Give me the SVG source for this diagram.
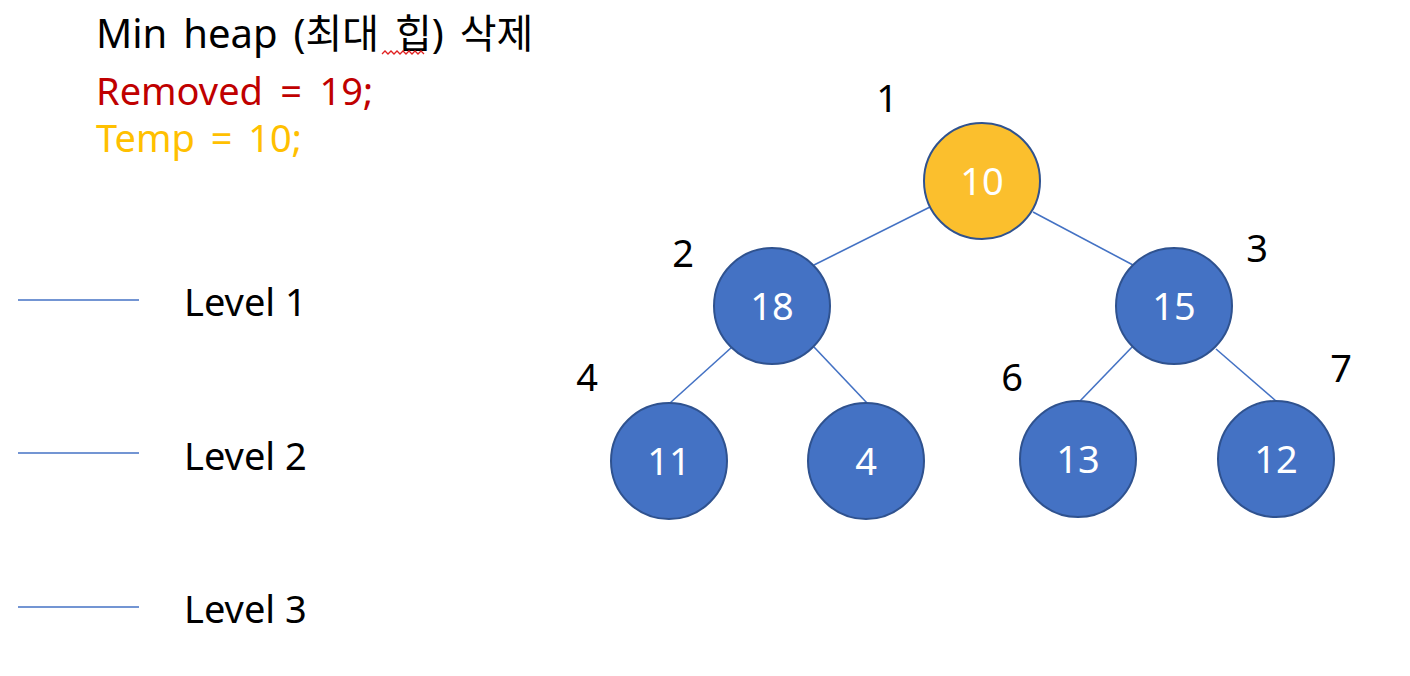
<svg xmlns="http://www.w3.org/2000/svg" width="1410" height="676" viewBox="0 0 1410 676">
<style>
text{font-family:"Noto Sans","Noto Sans CJK KR",sans-serif;font-size:38px}
.node circle{fill:#4472C4;stroke:#2F528F;stroke-width:2}
.node text{fill:#fff;text-anchor:middle}
.idx{fill:#000;text-anchor:middle}
.edge{stroke:#4472C4;stroke-width:1.6;fill:none}
</style>
<rect width="1410" height="676" fill="#fff"/>
<text x="96" y="48" fill="#000" style="font-size:40px" word-spacing="5.5">Min heap (최대 힙) 삭제</text>
<path d="M382,54 l3,-3 3,3 3,-3 3,3 3,-3 3,3 3,-3 3,3 3,-3 3,3 3,-3 3,3 3,-3 3,3" stroke="#E02020" stroke-width="1.3" fill="none"/>
<text x="96" y="105" fill="#C00000" word-spacing="7.5">Removed = 19;</text>
<text x="96" y="152" fill="#FFC000" word-spacing="6">Temp = 10;</text>
<g id="legend">
<line class="edge" x1="18" y1="300" x2="139" y2="300"/>
<text x="184" y="316">Level 1</text>
<line class="edge" x1="18" y1="453" x2="139" y2="453"/>
<text x="184" y="470">Level 2</text>
<line class="edge" x1="18" y1="607" x2="139" y2="607"/>
<text x="184" y="623">Level 3</text>
</g>
<g id="connectors">
<line class="edge" x1="930" y1="207" x2="814" y2="265"/>
<line class="edge" x1="1033" y1="212" x2="1133" y2="265"/>
<line class="edge" x1="732" y1="347" x2="670" y2="403"/>
<line class="edge" x1="814" y1="347" x2="867" y2="403"/>
<line class="edge" x1="1134" y1="345" x2="1080" y2="401"/>
<line class="edge" x1="1216" y1="349" x2="1276" y2="401"/>
</g>
<g id="n1" class="node"><circle cx="982" cy="181" r="58" style="fill:#FBBF2D"/><text x="982" y="195">10</text></g>
<g id="n2" class="node"><circle cx="772" cy="306" r="58"/><text x="772" y="320">18</text></g>
<g id="n3" class="node"><circle cx="1174" cy="306" r="58"/><text x="1174" y="320">15</text></g>
<g id="n4" class="node"><circle cx="669" cy="461" r="58"/><text x="669" y="475">11</text></g>
<g id="n5" class="node"><circle cx="866" cy="461" r="58"/><text x="866" y="475">4</text></g>
<g id="n6" class="node"><circle cx="1078" cy="459" r="58"/><text x="1078" y="473">13</text></g>
<g id="n7" class="node"><circle cx="1276" cy="459" r="58"/><text x="1276" y="473">12</text></g>
<g id="indices">
<text class="idx" x="887" y="112">1</text>
<text class="idx" x="683" y="267">2</text>
<text class="idx" x="1257" y="262">3</text>
<text class="idx" x="587" y="391">4</text>
<text class="idx" x="1012" y="391">6</text>
<text class="idx" x="1341" y="382">7</text>
</g>
</svg>
